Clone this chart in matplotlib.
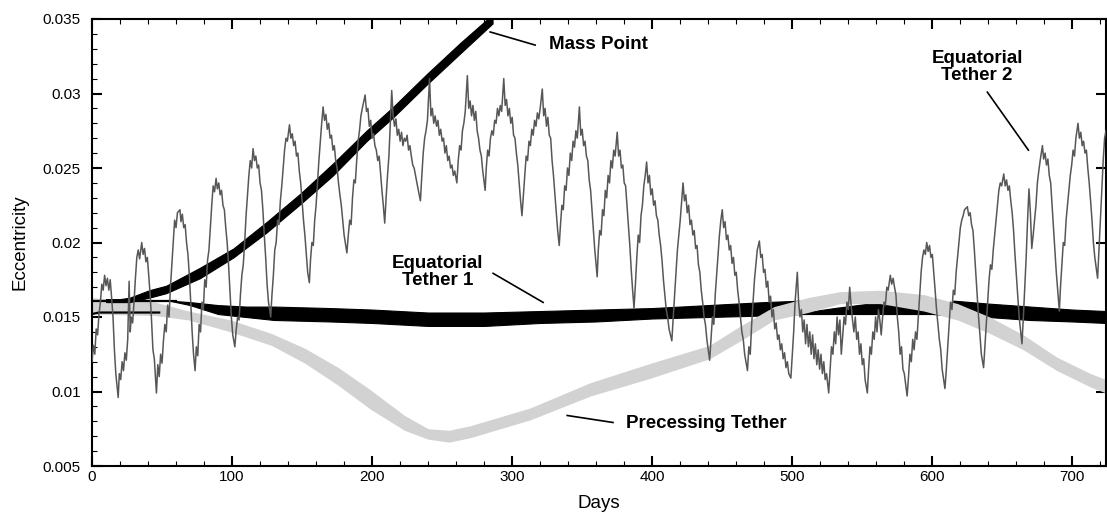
import numpy as np
import matplotlib
matplotlib.use("Agg")
import matplotlib.pyplot as plt
from matplotlib.ticker import MultipleLocator

plt.rcParams['font.family'] = ['Liberation Sans', 'DejaVu Sans']

# Mass Point (banda negra, limites superior e inferior)
mp_days = [10, 20, 27, 41, 53, 77, 101, 125, 149, 172, 196, 215, 239, 263, 286]
mp_upper = [0.0162, 0.0162, 0.0163, 0.0168, 0.0171, 0.0183, 0.0196, 0.0214, 0.0233,
            0.0253, 0.0275, 0.0291, 0.0313, 0.0334, 0.0353]
mp_lower = [0.0160, 0.0160, 0.0160, 0.0163, 0.0166, 0.0176, 0.0190, 0.0207, 0.0226,
            0.0245, 0.0268, 0.0284, 0.0306, 0.0327, 0.0347]

# Equatorial Tether 1 (banda negra)
t1_days = [55, 70, 90, 110, 130, 170, 200, 240, 280, 320, 360, 400, 440, 480, 507,
           508, 530, 555, 575, 600, 614, 615, 640, 670, 700, 724]
t1_upper = [0.0161, 0.0160, 0.0158, 0.0157, 0.0157, 0.0156, 0.0155, 0.0153, 0.0153,
            0.0154, 0.0155, 0.0156, 0.0158, 0.0160, 0.0161,
            0.0153, 0.0156, 0.0159, 0.0158, 0.0155, 0.0152, 0.0161, 0.0159, 0.0157,
            0.0155, 0.0154]
t1_lower = [0.0161, 0.0158, 0.0152, 0.0150, 0.0148, 0.0147, 0.0146, 0.0144, 0.0144,
            0.0146, 0.0147, 0.0149, 0.0150, 0.0151, 0.0152,
            0.0152, 0.0152, 0.0152, 0.0152, 0.0152, 0.0151, 0.0151, 0.0150, 0.0148,
            0.0147, 0.0146]
# las dos lineas finas del principio
t1_top_days = [0, 60]
t1_top = [0.0161, 0.0161]
t1_low_days = [0, 5, 48]
t1_low = [0.0152, 0.0153, 0.0153]

# Precessing Tether (banda gris)
pt_days = [0, 45, 69, 99, 128, 152, 176, 199, 223, 240, 255, 270, 313, 356, 399, 441,
           463, 487, 511, 534, 563, 594, 618, 641, 665, 689, 713, 724]
pt_upper = [0.0163, 0.0160, 0.0154, 0.0148, 0.0139, 0.0129, 0.0116, 0.0101, 0.0084,
            0.0075, 0.0074, 0.0077, 0.0089, 0.0106, 0.0119, 0.0131, 0.0144, 0.0157,
            0.0163, 0.0167, 0.0168, 0.0165, 0.0159, 0.0150, 0.0138, 0.0123, 0.0112,
            0.0108]
pt_lower = [0.0152, 0.0151, 0.0148, 0.0140, 0.0131, 0.0119, 0.0104, 0.0088, 0.0074,
            0.0068, 0.0066, 0.0069, 0.0081, 0.0097, 0.0109, 0.0122, 0.0134, 0.0148,
            0.0153, 0.0159, 0.0159, 0.0154, 0.0148, 0.0139, 0.0128, 0.0114, 0.0103,
            0.0099]

# Equatorial Tether 2 (linea gris ruidosa), pares (dia, excentricidad)
t2 = [
    (0, 0.0120), (1, 0.0131), (2, 0.0125), (3, 0.0142), (4, 0.0138), (5, 0.0152), (6, 0.0160),
    (7, 0.0172), (8, 0.0168), (9, 0.0178), (10, 0.0171), (11, 0.0176), (12, 0.0168), (13, 0.0175),
    (14, 0.0163), (15, 0.0150), (16, 0.0128), (17, 0.0112), (18.7, 0.0096), (19.5, 0.0112),
    (20.5, 0.0108), (21.5, 0.0120), (22.5, 0.0114), (23.5, 0.0126), (24.5, 0.0121), (25.5, 0.0135),
    (26.5, 0.0174), (27.3, 0.0140), (28, 0.0150), (29, 0.0146), (30, 0.0160), (31, 0.0176),
    (32, 0.0190), (33, 0.0195), (34, 0.0189), (35.5, 0.0200), (36.5, 0.0192), (37.5, 0.0196),
    (38.5, 0.0187), (39.5, 0.0190), (40.5, 0.0178), (41.5, 0.0165), (42.5, 0.0148), (43.5, 0.0128),
    (44.5, 0.0122), (46, 0.0099), (47, 0.0118), (48, 0.0110), (49, 0.0125), (50, 0.0119),
    (51, 0.0134), (52, 0.0145), (53, 0.0140), (54, 0.0158), (55, 0.0150), (56, 0.0170),
    (57, 0.0185), (58, 0.0200), (59, 0.0215), (60, 0.0210), (61, 0.0220), (62.8, 0.0222),
    (63.5, 0.0214), (64.5, 0.0219), (65.5, 0.0210), (66.5, 0.0212), (67.5, 0.0200), (68.5, 0.0192),
    (69.5, 0.0178), (70.5, 0.0160), (71.5, 0.0140), (72.5, 0.0125), (73.6, 0.0114), (74.5, 0.0130),
    (75.5, 0.0124), (76.5, 0.0145), (77.5, 0.0140), (78.5, 0.0160), (79.5, 0.0155), (80.5, 0.0175),
    (81.5, 0.0170), (82.5, 0.0188), (83.5, 0.0195), (84.5, 0.0210), (85.5, 0.0225), (86.5, 0.0238),
    (87.5, 0.0234), (88.6, 0.0243), (89.5, 0.0236), (90.5, 0.0240), (91.5, 0.0232), (92.5, 0.0235),
    (93.5, 0.0225), (94.5, 0.0222), (95.5, 0.0210), (96.5, 0.0200), (97.5, 0.0185), (98.5, 0.0168),
    (99.5, 0.0150), (100.5, 0.0138), (102, 0.0130), (103, 0.0142), (104, 0.0150), (105, 0.0148),
    (106, 0.0165), (107, 0.0178), (108, 0.0185), (109, 0.0200), (110, 0.0218), (111, 0.0232),
    (112, 0.0245), (113, 0.0255), (114, 0.0250), (115, 0.0263), (116, 0.0255), (117, 0.0258),
    (118, 0.0250), (119, 0.0252), (120, 0.0240), (121, 0.0235), (122, 0.0222), (123, 0.0205),
    (124, 0.0190), (125, 0.0172), (126, 0.0160), (127.6, 0.0150), (128.5, 0.0165), (129.5, 0.0178),
    (130.5, 0.0195), (131.5, 0.0200), (132.5, 0.0215), (133.5, 0.0212), (134.5, 0.0228),
    (135.5, 0.0238), (136.5, 0.0250), (137.5, 0.0262), (138.5, 0.0270), (139.5, 0.0268),
    (141, 0.0279), (142, 0.0270), (143, 0.0273), (144, 0.0265), (145, 0.0268), (146, 0.0258),
    (147, 0.0260), (148, 0.0248), (149, 0.0240), (150, 0.0228), (151, 0.0215), (152, 0.0205),
    (153, 0.0192), (154, 0.0180), (155.2, 0.0173), (156, 0.0188), (157, 0.0200), (158, 0.0198),
    (159, 0.0215), (160, 0.0225), (161, 0.0240), (162, 0.0255), (163, 0.0268), (164, 0.0280),
    (165, 0.0291), (166, 0.0282), (167, 0.0286), (168, 0.0276), (169, 0.0280), (170, 0.0270),
    (171, 0.0272), (172, 0.0262), (173, 0.0265), (174, 0.0255), (175, 0.0250), (176, 0.0240),
    (177, 0.0232), (178, 0.0225), (179, 0.0215), (180, 0.0205), (182, 0.0193), (183, 0.0205),
    (184, 0.0215), (185, 0.0212), (186, 0.0230), (187, 0.0242), (188, 0.0240), (189, 0.0255),
    (190, 0.0268), (191, 0.0275), (192, 0.0285), (193, 0.0290), (195, 0.0299), (196, 0.0288),
    (197, 0.0290), (198, 0.0278), (199, 0.0282), (200, 0.0270), (201, 0.0273), (202, 0.0265),
    (203, 0.0262), (204, 0.0255), (205, 0.0258), (206, 0.0247), (207, 0.0235), (208, 0.0225),
    (209, 0.0213), (210, 0.0230), (211, 0.0245), (212, 0.0258), (213, 0.0280), (214, 0.0302),
    (215, 0.0285), (216, 0.0278), (217, 0.0283), (218, 0.0272), (219, 0.0276), (220, 0.0268),
    (221, 0.0274), (222, 0.0265), (223, 0.0270), (224, 0.0268), (225, 0.0272), (226, 0.0262),
    (227, 0.0265), (228, 0.0258), (229, 0.0252), (230, 0.0250), (231, 0.0245), (232, 0.0240),
    (233, 0.0235), (234.5, 0.0228), (235.5, 0.0245), (236.5, 0.0260), (237.5, 0.0270),
    (238.5, 0.0275), (239.5, 0.0282), (241, 0.0310), (242, 0.0285), (243, 0.0290), (244, 0.0280),
    (245, 0.0285), (246, 0.0278), (247, 0.0282), (248, 0.0272), (249, 0.0276), (250, 0.0268),
    (251, 0.0270), (252, 0.0260), (253, 0.0265), (254, 0.0255), (255, 0.0258), (256, 0.0250),
    (257, 0.0252), (258, 0.0245), (259, 0.0248), (260.5, 0.0240), (261.5, 0.0255), (262.5, 0.0265),
    (263.5, 0.0262), (264.5, 0.0275), (265.5, 0.0280), (266.5, 0.0288), (268, 0.0312),
    (269, 0.0290), (270, 0.0295), (271, 0.0285), (272, 0.0292), (273, 0.0282), (274, 0.0288),
    (275, 0.0275), (276, 0.0270), (277, 0.0262), (278, 0.0258), (279, 0.0248), (280.7, 0.0235),
    (281.5, 0.0250), (282.5, 0.0262), (283.5, 0.0258), (284.5, 0.0270), (285.5, 0.0275),
    (286.5, 0.0272), (287.5, 0.0282), (288.5, 0.0280), (289.5, 0.0290), (290.5, 0.0285),
    (291.5, 0.0292), (292.5, 0.0288), (294, 0.0310), (295, 0.0292), (296, 0.0296), (297, 0.0285),
    (298, 0.0290), (299, 0.0280), (300, 0.0284), (301, 0.0272), (302, 0.0270), (303, 0.0260),
    (304, 0.0252), (305, 0.0240), (306, 0.0228), (307, 0.0218), (308, 0.0232), (309, 0.0245),
    (310, 0.0258), (311, 0.0255), (312, 0.0268), (313, 0.0265), (314, 0.0276), (315, 0.0272),
    (316, 0.0282), (317, 0.0278), (318, 0.0287), (319, 0.0283), (320, 0.0290), (321.5, 0.0303),
    (322.5, 0.0285), (323.5, 0.0290), (324.5, 0.0278), (325.5, 0.0284), (326.5, 0.0272),
    (327.5, 0.0270), (328.5, 0.0255), (329.5, 0.0245), (330.5, 0.0232), (331.5, 0.0220),
    (332.5, 0.0208), (333.6, 0.0198), (334.5, 0.0212), (335.5, 0.0225), (336.5, 0.0222),
    (337.5, 0.0238), (338.5, 0.0235), (339.5, 0.0250), (340.5, 0.0245), (341.5, 0.0260),
    (342.5, 0.0255), (343.5, 0.0268), (344.5, 0.0264), (345.5, 0.0275), (346.5, 0.0270),
    (348, 0.0291), (349, 0.0272), (350, 0.0276), (351, 0.0265), (352, 0.0268), (353, 0.0258),
    (354, 0.0255), (355, 0.0242), (356, 0.0235), (357, 0.0222), (358, 0.0210), (359, 0.0195),
    (360.7, 0.0177), (361.5, 0.0195), (362.5, 0.0208), (363.5, 0.0205), (364.5, 0.0222),
    (365.5, 0.0218), (366.5, 0.0235), (367.5, 0.0230), (368.5, 0.0245), (369.5, 0.0240),
    (370.5, 0.0255), (371.5, 0.0250), (372.5, 0.0262), (373.5, 0.0258), (375, 0.0274),
    (376, 0.0258), (377, 0.0262), (378, 0.0250), (379, 0.0252), (380, 0.0240), (381, 0.0238),
    (382, 0.0225), (383, 0.0212), (384, 0.0198), (385, 0.0182), (386, 0.0168), (387, 0.0156),
    (388, 0.0172), (389, 0.0190), (390, 0.0205), (391, 0.0200), (392, 0.0218), (393, 0.0225),
    (394, 0.0238), (395, 0.0245), (396, 0.0254), (397, 0.0240), (398, 0.0245), (399, 0.0232),
    (400, 0.0236), (401, 0.0225), (402, 0.0228), (403, 0.0218), (404, 0.0215), (405, 0.0205),
    (406, 0.0198), (407, 0.0188), (408, 0.0175), (409, 0.0165), (410, 0.0155), (411, 0.0150),
    (412, 0.0142), (414, 0.0134), (415, 0.0150), (416, 0.0165), (417, 0.0180), (418, 0.0195),
    (419, 0.0205), (420, 0.0215), (421, 0.0228), (422, 0.0240), (423, 0.0228), (424, 0.0232),
    (425, 0.0220), (426, 0.0225), (427, 0.0212), (428, 0.0215), (429, 0.0205), (430, 0.0208),
    (431, 0.0196), (432, 0.0198), (433, 0.0185), (434, 0.0180), (435, 0.0168), (436, 0.0160),
    (437, 0.0150), (438, 0.0145), (439, 0.0135), (441, 0.0121), (442, 0.0135), (443, 0.0150),
    (444, 0.0145), (445, 0.0165), (446, 0.0178), (447, 0.0190), (448, 0.0205), (449, 0.0215),
    (450, 0.0222), (451, 0.0210), (452, 0.0214), (453, 0.0202), (454, 0.0205), (455, 0.0195),
    (456, 0.0198), (457, 0.0186), (458, 0.0190), (459, 0.0178), (460, 0.0180), (461, 0.0168),
    (462, 0.0160), (463, 0.0150), (464, 0.0140), (465, 0.0135), (466, 0.0125), (468, 0.0114),
    (469, 0.0130), (470, 0.0125), (471, 0.0145), (472, 0.0160), (473, 0.0175), (474, 0.0185),
    (475, 0.0195), (476.5, 0.0201), (477.5, 0.0190), (478.5, 0.0192), (479.5, 0.0180),
    (480.5, 0.0182), (481.5, 0.0170), (482.5, 0.0174), (483.5, 0.0160), (484.5, 0.0164),
    (485.5, 0.0150), (486.5, 0.0155), (487.5, 0.0142), (488.5, 0.0146), (489.5, 0.0135),
    (490.5, 0.0138), (491.5, 0.0128), (492.5, 0.0132), (493.5, 0.0122), (494.5, 0.0126),
    (495.5, 0.0116), (496.5, 0.0120), (497.5, 0.0112), (499, 0.0109), (500, 0.0125),
    (501, 0.0140), (502, 0.0160), (503.6, 0.0180), (504.5, 0.0160), (505.5, 0.0150),
    (506.5, 0.0155), (507.5, 0.0140), (508.5, 0.0148), (509.5, 0.0132), (510.5, 0.0145),
    (511.5, 0.0130), (512.5, 0.0140), (513.5, 0.0125), (514.5, 0.0138), (515.5, 0.0122),
    (516.5, 0.0132), (517.5, 0.0118), (518.5, 0.0128), (519.5, 0.0115), (520.5, 0.0125),
    (521.5, 0.0112), (522.5, 0.0120), (523.5, 0.0108), (524.5, 0.0112), (526, 0.0099),
    (527, 0.0115), (528, 0.0130), (529, 0.0125), (530, 0.0140), (531, 0.0132), (532, 0.0150),
    (533, 0.0138), (534, 0.0148), (535, 0.0125), (536, 0.0138), (537, 0.0150), (538, 0.0145),
    (539, 0.0160), (540, 0.0155), (541, 0.0170), (542, 0.0158), (543, 0.0148), (544, 0.0140),
    (545, 0.0150), (546, 0.0135), (547, 0.0140), (548, 0.0125), (549, 0.0132), (550, 0.0118),
    (551, 0.0122), (552, 0.0108), (553.6, 0.0099), (554.5, 0.0115), (555.5, 0.0130),
    (556.5, 0.0125), (557.5, 0.0140), (558.5, 0.0135), (559.5, 0.0150), (560.5, 0.0140),
    (561.5, 0.0155), (562.5, 0.0148), (563.5, 0.0138), (564.5, 0.0150), (565.5, 0.0160),
    (566.5, 0.0158), (567.5, 0.0170), (568.5, 0.0168), (570, 0.0178), (571, 0.0172),
    (572, 0.0176), (573, 0.0170), (574, 0.0165), (575, 0.0150), (576, 0.0140), (577, 0.0125),
    (578, 0.0130), (579, 0.0115), (580, 0.0112), (582, 0.0097), (583, 0.0110), (584, 0.0125),
    (585, 0.0120), (586, 0.0135), (587, 0.0128), (588, 0.0140), (589, 0.0135), (590, 0.0150),
    (591, 0.0165), (592, 0.0180), (593, 0.0190), (594, 0.0195), (595, 0.0192), (596, 0.0200),
    (597, 0.0194), (598, 0.0198), (599, 0.0190), (600, 0.0192), (601, 0.0180), (602, 0.0168),
    (603, 0.0155), (604, 0.0145), (605, 0.0135), (606, 0.0128), (607, 0.0115), (609, 0.0102),
    (610, 0.0115), (611, 0.0130), (612, 0.0145), (613, 0.0160), (614, 0.0155), (615, 0.0168),
    (616, 0.0165), (617, 0.0180), (618, 0.0190), (619, 0.0200), (620, 0.0210), (621, 0.0215),
    (622, 0.0218), (623, 0.0222), (625, 0.0224), (626, 0.0218), (627, 0.0220), (628, 0.0212),
    (629, 0.0208), (630, 0.0195), (631, 0.0180), (632, 0.0165), (633, 0.0150), (634, 0.0138),
    (635, 0.0125), (636.6, 0.0116), (637.5, 0.0130), (638.5, 0.0145), (639.5, 0.0160),
    (640.5, 0.0175), (641.5, 0.0185), (642.5, 0.0182), (643.5, 0.0195), (644.5, 0.0205),
    (645.5, 0.0215), (646.5, 0.0225), (647.5, 0.0235), (648.5, 0.0240), (649.5, 0.0238),
    (651, 0.0246), (652, 0.0238), (653, 0.0242), (654, 0.0235), (655, 0.0238), (656, 0.0228),
    (657, 0.0220), (658, 0.0208), (659, 0.0192), (660, 0.0178), (661, 0.0165), (662, 0.0150),
    (664, 0.0132), (665, 0.0150), (666, 0.0170), (667, 0.0190), (668, 0.0215), (669, 0.0236),
    (670, 0.0220), (671, 0.0196), (672, 0.0205), (673, 0.0215), (674, 0.0225), (675, 0.0240),
    (676, 0.0248), (677, 0.0255), (678.6, 0.0265), (679.5, 0.0256), (680.5, 0.0260),
    (681.5, 0.0252), (682.5, 0.0256), (683.5, 0.0245), (684.5, 0.0240), (685.5, 0.0225),
    (686.5, 0.0210), (687.5, 0.0195), (688.5, 0.0180), (689.5, 0.0168), (690.7, 0.0154),
    (691.5, 0.0170), (692.5, 0.0185), (693.5, 0.0200), (694.5, 0.0198), (695.5, 0.0215),
    (696.5, 0.0225), (697.5, 0.0235), (698.5, 0.0245), (699.5, 0.0252), (700.5, 0.0262),
    (701.5, 0.0258), (702.5, 0.0270), (704, 0.0280), (705, 0.0270), (706, 0.0274), (707, 0.0265),
    (708, 0.0268), (709, 0.0260), (710, 0.0262), (711, 0.0250), (712, 0.0240), (713, 0.0228),
    (714, 0.0215), (715, 0.0200), (716, 0.0190), (718, 0.0176), (719, 0.0195), (720, 0.0215),
    (721, 0.0235), (722, 0.0255), (723, 0.0270), (724, 0.0275),
]
t2 = np.array(t2)

fig = plt.figure(figsize=(11.07, 5.14), dpi=100)
ax = fig.add_axes([92/1107, 48/514, 1014/1107, 447/514])

# bandas
ax.fill_between(t1_days, t1_lower, t1_upper, color="black", lw=0.8, zorder=1)
ax.fill_between(pt_days, pt_lower, pt_upper, color="#d2d2d2", lw=0, zorder=2)
ax.plot(t1_top_days, t1_top, color="black", lw=1.6, zorder=3)
ax.plot(t1_low_days, t1_low, color="black", lw=1.6, zorder=3)
ax.fill_between(mp_days, mp_lower, mp_upper, color="black", lw=0.8, zorder=3)
ax.plot(t2[:, 0], t2[:, 1], color="#575757", lw=1.1, zorder=4)

# etiquetas
kw = dict(fontsize=13.5, fontweight="bold", color="black", zorder=5)
ax.text(326, 0.0333, "Mass Point", ha="left", va="center", **kw)
ax.plot([284.3, 316.4], [0.03413, 0.03325], color="black", lw=1.2, zorder=5)
ax.text(632, 0.0318, "Equatorial\nTether 2", ha="center", va="center", linespacing=1.0, **kw)
ax.plot([639.3, 668.6], [0.03009, 0.0262], color="black", lw=1.2, zorder=5)
ax.text(247, 0.0180, "Equatorial\nTether 1", ha="center", va="center", linespacing=1.0, **kw)
ax.plot([286.4, 322.1], [0.01793, 0.01598], color="black", lw=1.2, zorder=5)
ax.text(381, 0.00784, "Precessing Tether", ha="left", va="center", **kw)
ax.plot([339.3, 372.0], [0.00839, 0.00792], color="black", lw=1.2, zorder=5)

ax.set_xlim(0, 724)
ax.set_ylim(0.005, 0.035)
ax.xaxis.set_major_locator(MultipleLocator(100))
ax.xaxis.set_minor_locator(MultipleLocator(20))
ax.yaxis.set_major_locator(MultipleLocator(0.005))
ax.yaxis.set_minor_locator(MultipleLocator(0.001))
ax.set_yticks([0.005, 0.01, 0.015, 0.02, 0.025, 0.03, 0.035])
ax.set_yticklabels(["0.005", "0.01", "0.015", "0.02", "0.025", "0.03", "0.035"])
ax.tick_params(which="both", direction="in", top=True, right=True, labelsize=11)
ax.tick_params(which="major", length=7, width=1.5)
ax.tick_params(which="minor", length=3.5, width=0.8, right=False)
ax.tick_params(axis="y", pad=8)
ax.tick_params(axis="x", pad=3)
for s in ax.spines.values():
    s.set_linewidth(1.5)

ax.set_xlabel("Days", fontsize=13.5, labelpad=8)
ax.set_ylabel("Eccentricity", fontsize=13.5, labelpad=10)

fig.savefig("out.png", dpi=100)
